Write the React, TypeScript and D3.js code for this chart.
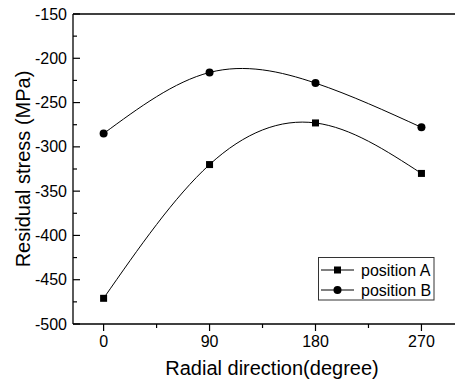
import { useEffect, useRef } from "react";
import * as d3 from "d3";

const angles = [0, 90, 180, 270];
const positionA = [-471, -320, -273, -330];
const positionB = [-285, -216, -228, -278];
const xTicks = [0, 90, 180, 270];
const xMinorTicks = [45, 135, 225];
const yTicks = [-500, -450, -400, -350, -300, -250, -200, -150];
const yMinorTicks = [-475, -425, -375, -325, -275, -225, -175];
const seriesNames = ["position A", "position B"];

const FONT = "'Liberation Sans', Arial, sans-serif";

export default function App() {
  const svgRef = useRef<SVGSVGElement | null>(null);

  useEffect(() => {
    document.body.style.margin = "0";
    const svg = d3.select(svgRef.current);
    svg.selectAll("*").remove();

    const W = 455;
    const H = 381;
    const left = 73;
    const top = 14;
    const bottom = 324;

    const x = d3.scaleLinear().domain([-26, 298.5]).range([left, W]);
    const y = d3.scaleLinear().domain([-500, -150]).range([bottom, top]);

    svg.attr("width", W).attr("height", H).attr("font-family", FONT);
    const g = svg.append("g");

    // 枠線(上・左・下)
    g.append("line")
      .attr("x1", left).attr("x2", W).attr("y1", top).attr("y2", top)
      .attr("stroke", "#000").attr("stroke-width", 1.3);
    g.append("line")
      .attr("x1", left).attr("x2", left).attr("y1", top).attr("y2", bottom)
      .attr("stroke", "#000").attr("stroke-width", 1.3);
    g.append("line")
      .attr("x1", left).attr("x2", W).attr("y1", bottom).attr("y2", bottom)
      .attr("stroke", "#000").attr("stroke-width", 1.3);

    // Y軸の目盛り(内向き)
    yTicks.forEach((v) => {
      g.append("line")
        .attr("x1", left).attr("x2", left + 7).attr("y1", y(v)).attr("y2", y(v))
        .attr("stroke", "#000").attr("stroke-width", 1.2);
      g.append("text")
        .attr("x", 67).attr("y", y(v)).attr("dy", "0.35em")
        .attr("text-anchor", "end").attr("font-size", 16)
        .text(v);
    });
    yMinorTicks.forEach((v) => {
      g.append("line")
        .attr("x1", left).attr("x2", left + 4).attr("y1", y(v)).attr("y2", y(v))
        .attr("stroke", "#000").attr("stroke-width", 1.2);
    });

    // X軸の目盛り(外向き)
    xTicks.forEach((v) => {
      g.append("line")
        .attr("x1", x(v)).attr("x2", x(v)).attr("y1", bottom).attr("y2", bottom + 7)
        .attr("stroke", "#000").attr("stroke-width", 1.2);
      g.append("text")
        .attr("x", x(v)).attr("y", 347)
        .attr("text-anchor", "middle").attr("font-size", 16)
        .text(v);
    });
    xMinorTicks.forEach((v) => {
      g.append("line")
        .attr("x1", x(v)).attr("x2", x(v)).attr("y1", bottom).attr("y2", bottom + 4)
        .attr("stroke", "#000").attr("stroke-width", 1.2);
    });

    // 軸タイトル
    g.append("text")
      .attr("x", (left + 455) / 2 + 8).attr("y", 375)
      .attr("text-anchor", "middle").attr("font-size", 20)
      .text("Radial direction(degree)");
    g.append("text")
      .attr("transform", `translate(30,${(top + bottom) / 2}) rotate(-90)`)
      .attr("text-anchor", "middle").attr("font-size", 20)
      .text("Residual stress (MPa)");

    // スプライン曲線
    const line = d3
      .line<number>()
      .x((_d, i) => x(angles[i]))
      .y((d) => y(d))
      .curve(d3.curveNatural);

    [positionA, positionB].forEach((values) => {
      g.append("path")
        .attr("d", line(values))
        .attr("fill", "none")
        .attr("stroke", "#000")
        .attr("stroke-width", 1);
    });

    // マーカー
    positionA.forEach((v, i) => {
      g.append("rect")
        .attr("x", x(angles[i]) - 3.5).attr("y", y(v) - 3.5)
        .attr("width", 7).attr("height", 7).attr("fill", "#000");
    });
    positionB.forEach((v, i) => {
      g.append("circle")
        .attr("cx", x(angles[i])).attr("cy", y(v)).attr("r", 4).attr("fill", "#000");
    });

    // 凡例
    const legend = g.append("g");
    legend.append("rect")
      .attr("x", 318.5).attr("y", 257.5).attr("width", 115.5).attr("height", 42.5)
      .attr("fill", "#fff").attr("stroke", "#333").attr("stroke-width", 1);
    seriesNames.forEach((name, i) => {
      const cy = 270 + i * 20;
      legend.append("line")
        .attr("x1", 321).attr("x2", 354).attr("y1", cy).attr("y2", cy)
        .attr("stroke", "#000").attr("stroke-width", 1);
      if (i === 0) {
        legend.append("rect")
          .attr("x", 334).attr("y", cy - 3.5).attr("width", 7).attr("height", 7)
          .attr("fill", "#000");
      } else {
        legend.append("circle")
          .attr("cx", 337.5).attr("cy", cy).attr("r", 4).attr("fill", "#000");
      }
      legend.append("text")
        .attr("x", 361).attr("y", cy).attr("dy", "0.35em")
        .attr("font-size", 16)
        .text(name);
    });
  }, []);

  return (
    <div style={{ position: "absolute", left: 0, top: 0 }}>
      <svg ref={svgRef} style={{ display: "block" }} />
    </div>
  );
}
